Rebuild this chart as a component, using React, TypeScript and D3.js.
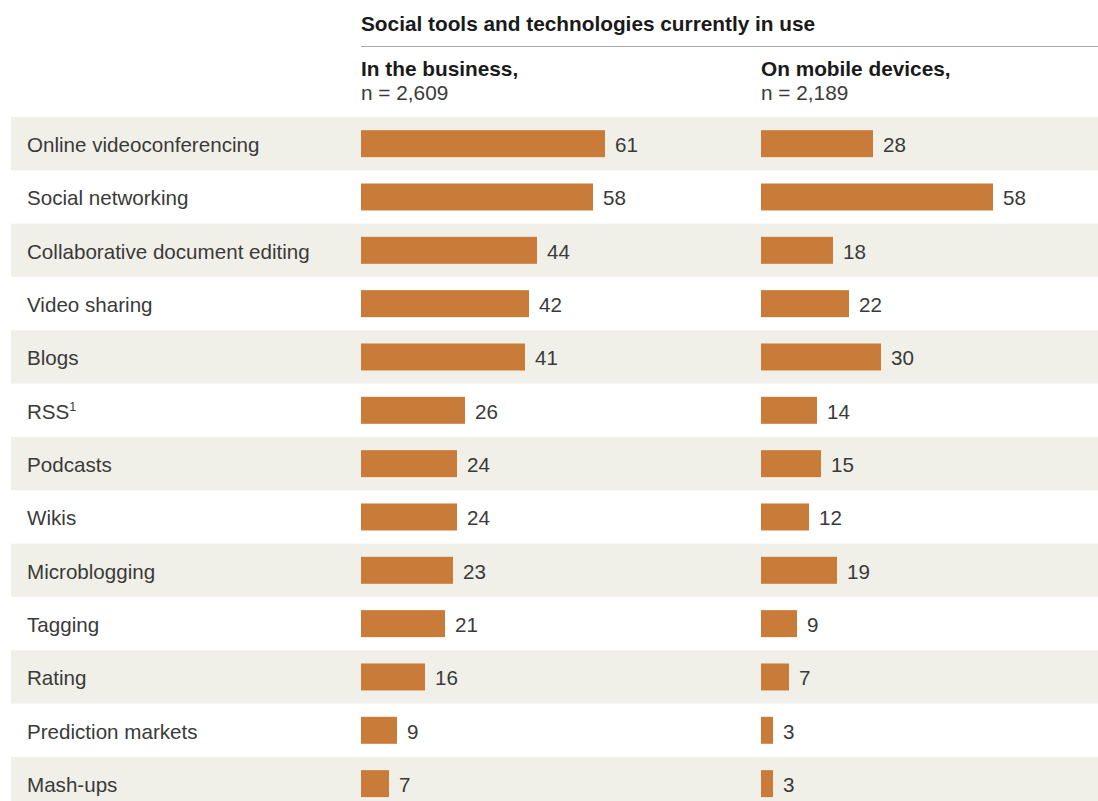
import React from "react";
import * as d3 from "d3";

const categories = [
  "Online videoconferencing",
  "Social networking",
  "Collaborative document editing",
  "Video sharing",
  "Blogs",
  "RSS",
  "Podcasts",
  "Wikis",
  "Microblogging",
  "Tagging",
  "Rating",
  "Prediction markets",
  "Mash-ups",
];
const footnotes = ["", "", "", "", "", "1", "", "", "", "", "", "", ""];
const businessValues = [61, 58, 44, 42, 41, 26, 24, 24, 23, 21, 16, 9, 7];
const mobileValues = [28, 58, 18, 22, 30, 14, 15, 12, 19, 9, 7, 3, 3];

const title = "Social tools and technologies currently in use";
const seriesTitles = ["In the business,", "On mobile devices,"];
const seriesN = ["n = 2,609", "n = 2,189"];

const FONT = "'Liberation Sans', Arial, Helvetica, sans-serif";
const TEXT = "#3a3a3a";
const BAR = "#c97b3a";
const BAND = "#f1f0e8";

export default function App() {
  const W = 1098;
  const H = 801;
  const rowH = 53.33;
  const top = 117;
  const y = d3
    .scaleBand<string>()
    .domain(categories)
    .range([top, top + rowH * categories.length])
    .paddingInner(0)
    .paddingOuter(0);
  const x = d3.scaleLinear().domain([0, 100]).range([0, 400]);
  const colX = [361, 761];
  const series = [businessValues, mobileValues];
  const barH = 27;

  return (
    <svg
      width={W}
      height={H}
      style={{ position: "absolute", left: 0, top: 0, background: "#fff" }}
      fontFamily={FONT}
    >
      <text x={361} y={31} fontSize={20.8} fontWeight="bold" fill="#1a1a1a">
        {title}
      </text>
      <line x1={361} x2={W} y1={46.5} y2={46.5} stroke="#aaaaaa" strokeWidth={1.2} />
      {seriesTitles.map((t, i) => (
        <g key={t}>
          <text x={colX[i]} y={76} fontSize={20.8} fontWeight="bold" fill="#1a1a1a">
            {t}
          </text>
          <text x={colX[i]} y={100} fontSize={20.8} fill={TEXT}>
            {seriesN[i]}
          </text>
        </g>
      ))}
      {categories.map((c, i) => {
        const y0 = y(c)!;
        const cy = y0 + y.bandwidth() / 2;
        return (
          <g key={c}>
            {i % 2 === 0 && (
              <rect x={11} y={y0} width={W - 11} height={y.bandwidth()} fill={BAND} />
            )}
            <text x={27} y={cy + 8.5} fontSize={20.6} fill={TEXT}>
              {c}
              {footnotes[i] && (
                <tspan fontSize={12.5} dy={-7.5}>
                  {footnotes[i]}
                </tspan>
              )}
            </text>
            {series.map((vals, s) => (
              <g key={s}>
                <rect
                  x={colX[s]}
                  y={cy - barH / 2}
                  width={x(vals[i])}
                  height={barH}
                  fill={BAR}
                />
                <text x={colX[s] + x(vals[i]) + 10} y={cy + 8.5} fontSize={20.6} fill={TEXT}>
                  {vals[i]}
                </text>
              </g>
            ))}
          </g>
        );
      })}
    </svg>
  );
}
